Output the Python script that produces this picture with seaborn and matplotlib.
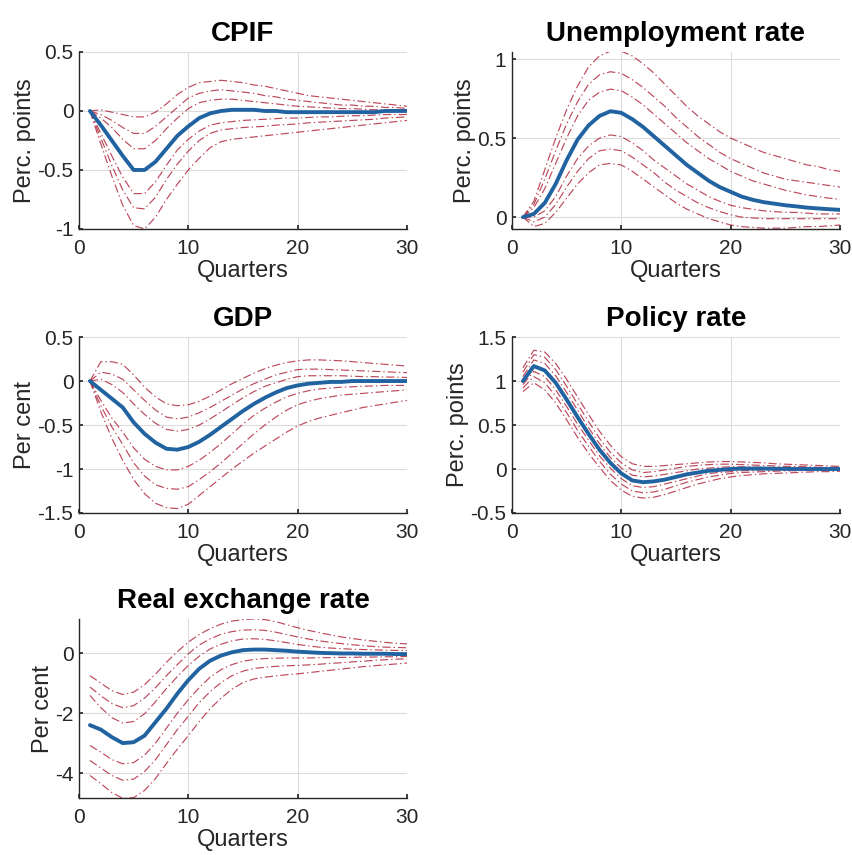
import numpy as np
import pandas as pd
import matplotlib
matplotlib.use("Agg")
import matplotlib.pyplot as plt
import seaborn as sns
from matplotlib.ticker import FuncFormatter

quarters = list(range(1, 31))

# ---------------- CPIF ----------------
cpif_med = [0.00, -0.12, -0.25, -0.38, -0.50, -0.50, -0.43, -0.32, -0.21, -0.13, -0.06, -0.02, 0.00, 0.01, 0.01,
            0.01, 0.00, 0.00, -0.01, -0.01, -0.01, -0.01, -0.01, -0.01, -0.01, -0.01, -0.01, 0.00, 0.00, 0.00]
cpif_u3 = [0.00, 0.01, -0.01, -0.03, -0.05, -0.05, -0.01, 0.06, 0.14, 0.20, 0.24, 0.25, 0.26, 0.25, 0.24,
           0.22, 0.21, 0.19, 0.17, 0.15, 0.13, 0.12, 0.11, 0.10, 0.09, 0.08, 0.07, 0.06, 0.05, 0.04]
cpif_u2 = [0.00, -0.03, -0.08, -0.14, -0.19, -0.19, -0.13, -0.05, 0.03, 0.11, 0.15, 0.17, 0.18, 0.17, 0.16,
           0.15, 0.13, 0.12, 0.10, 0.09, 0.08, 0.07, 0.06, 0.05, 0.05, 0.04, 0.04, 0.03, 0.03, 0.02]
cpif_u1 = [0.00, -0.06, -0.14, -0.24, -0.32, -0.32, -0.25, -0.15, -0.06, 0.02, 0.07, 0.09, 0.10, 0.10, 0.09,
           0.08, 0.07, 0.06, 0.05, 0.04, 0.035, 0.03, 0.025, 0.02, 0.02, 0.015, 0.01, 0.01, 0.01, 0.01]
cpif_l1 = [0.00, -0.19, -0.38, -0.56, -0.70, -0.70, -0.60, -0.46, -0.33, -0.24, -0.17, -0.12, -0.10, -0.09, -0.08,
           -0.075, -0.07, -0.065, -0.06, -0.06, -0.055, -0.05, -0.05, -0.045, -0.04, -0.04, -0.035, -0.03, -0.03, -0.03]
cpif_l2 = [0.00, -0.23, -0.46, -0.67, -0.82, -0.83, -0.73, -0.58, -0.45, -0.34, -0.25, -0.19, -0.16, -0.15, -0.14,
           -0.135, -0.13, -0.12, -0.115, -0.11, -0.10, -0.095, -0.09, -0.085, -0.08, -0.075, -0.07, -0.06, -0.055, -0.05]
cpif_l3 = [0.00, -0.28, -0.55, -0.80, -0.97, -1.00, -0.90, -0.75, -0.62, -0.50, -0.40, -0.31, -0.26, -0.24, -0.23,
           -0.22, -0.21, -0.20, -0.19, -0.18, -0.17, -0.16, -0.15, -0.14, -0.13, -0.12, -0.11, -0.10, -0.09, -0.08]

# ---------------- Unemployment rate ----------------
unemp_med = [0.00, 0.02, 0.09, 0.21, 0.36, 0.49, 0.58, 0.64, 0.67, 0.66, 0.62, 0.57, 0.51, 0.45, 0.39,
             0.33, 0.28, 0.23, 0.19, 0.16, 0.13, 0.11, 0.095, 0.085, 0.075, 0.068, 0.06, 0.055, 0.05, 0.046]
unemp_u3 = [0.00, 0.10, 0.30, 0.50, 0.68, 0.83, 0.95, 1.02, 1.05, 1.05, 1.02, 0.97, 0.91, 0.84, 0.77,
            0.70, 0.64, 0.59, 0.54, 0.50, 0.47, 0.44, 0.41, 0.39, 0.37, 0.35, 0.33, 0.32, 0.30, 0.29]
unemp_u2 = [0.00, 0.08, 0.24, 0.42, 0.59, 0.73, 0.84, 0.90, 0.92, 0.91, 0.87, 0.82, 0.76, 0.70, 0.63,
            0.57, 0.51, 0.46, 0.41, 0.37, 0.34, 0.31, 0.28, 0.26, 0.24, 0.23, 0.22, 0.21, 0.20, 0.19]
unemp_u1 = [0.00, 0.06, 0.18, 0.34, 0.50, 0.64, 0.74, 0.79, 0.81, 0.80, 0.76, 0.71, 0.65, 0.59, 0.53,
            0.47, 0.42, 0.37, 0.33, 0.29, 0.26, 0.23, 0.21, 0.19, 0.17, 0.155, 0.14, 0.13, 0.12, 0.113]
unemp_l1 = [0.00, 0.00, 0.04, 0.13, 0.26, 0.37, 0.45, 0.50, 0.52, 0.51, 0.47, 0.42, 0.36, 0.31, 0.26,
            0.21, 0.17, 0.13, 0.10, 0.075, 0.06, 0.05, 0.04, 0.035, 0.03, 0.03, 0.025, 0.02, 0.02, 0.02]
unemp_l2 = [0.00, -0.03, 0.00, 0.08, 0.19, 0.29, 0.37, 0.42, 0.43, 0.42, 0.38, 0.33, 0.28, 0.22, 0.17,
            0.13, 0.09, 0.06, 0.035, 0.015, 0.00, -0.005, -0.01, -0.01, -0.01, -0.01, -0.01, -0.01, -0.01, -0.01]
unemp_l3 = [0.00, -0.06, -0.04, 0.03, 0.12, 0.21, 0.28, 0.33, 0.34, 0.33, 0.29, 0.24, 0.19, 0.14, 0.09,
            0.05, 0.02, -0.01, -0.03, -0.05, -0.06, -0.065, -0.07, -0.07, -0.07, -0.065, -0.06, -0.06, -0.055, -0.05]

# ---------------- GDP ----------------
gdp_med = [0.00, -0.10, -0.20, -0.30, -0.47, -0.60, -0.70, -0.77, -0.78, -0.75, -0.69, -0.61, -0.52, -0.43, -0.34,
           -0.26, -0.19, -0.13, -0.08, -0.05, -0.03, -0.02, -0.01, -0.01, 0.00, 0.00, 0.00, 0.00, 0.00, 0.00]
gdp_u3 = [0.00, 0.22, 0.22, 0.19, 0.07, -0.07, -0.18, -0.26, -0.28, -0.27, -0.23, -0.17, -0.10, -0.03, 0.03,
          0.09, 0.14, 0.18, 0.21, 0.23, 0.24, 0.24, 0.235, 0.23, 0.22, 0.21, 0.20, 0.19, 0.18, 0.17]
gdp_u2 = [0.00, 0.10, 0.08, 0.02, -0.10, -0.22, -0.33, -0.41, -0.43, -0.41, -0.36, -0.30, -0.23, -0.16, -0.09,
          -0.03, 0.02, 0.07, 0.10, 0.13, 0.135, 0.135, 0.13, 0.125, 0.12, 0.115, 0.11, 0.105, 0.10, 0.095]
gdp_u1 = [0.00, 0.02, -0.04, -0.13, -0.26, -0.38, -0.48, -0.55, -0.57, -0.55, -0.50, -0.43, -0.35, -0.27, -0.19,
          -0.12, -0.06, -0.02, 0.02, 0.05, 0.06, 0.06, 0.06, 0.06, 0.055, 0.05, 0.05, 0.045, 0.045, 0.04]
gdp_l1 = [0.00, -0.22, -0.42, -0.58, -0.76, -0.89, -0.97, -1.01, -1.01, -0.97, -0.90, -0.81, -0.71, -0.60, -0.49,
          -0.39, -0.31, -0.24, -0.18, -0.14, -0.11, -0.09, -0.08, -0.07, -0.065, -0.06, -0.055, -0.05, -0.05, -0.05]
gdp_l2 = [0.00, -0.28, -0.52, -0.72, -0.93, -1.08, -1.18, -1.22, -1.23, -1.20, -1.12, -1.03, -0.93, -0.82, -0.71,
          -0.60, -0.50, -0.41, -0.33, -0.27, -0.23, -0.20, -0.18, -0.16, -0.15, -0.14, -0.13, -0.12, -0.11, -0.10]
gdp_l3 = [0.00, -0.35, -0.65, -0.90, -1.12, -1.28, -1.39, -1.44, -1.45, -1.40, -1.30, -1.20, -1.10, -1.00, -0.91,
          -0.82, -0.74, -0.66, -0.58, -0.51, -0.46, -0.42, -0.39, -0.36, -0.33, -0.30, -0.28, -0.26, -0.24, -0.22]

# ---------------- Policy rate ----------------
pol_med = [1.00, 1.17, 1.12, 0.98, 0.79, 0.59, 0.40, 0.22, 0.07, -0.05, -0.13, -0.15, -0.14, -0.12, -0.09,
           -0.06, -0.04, -0.02, -0.01, 0.00, 0.005, 0.005, 0.005, 0.003, 0.002, 0.00, 0.00, 0.00, 0.00, 0.00]
pol_u3 = [1.15, 1.35, 1.33, 1.20, 1.02, 0.82, 0.62, 0.43, 0.27, 0.14, 0.06, 0.03, 0.03, 0.04, 0.05,
          0.06, 0.07, 0.08, 0.085, 0.085, 0.08, 0.075, 0.07, 0.06, 0.055, 0.05, 0.045, 0.04, 0.035, 0.03]
pol_u2 = [1.10, 1.30, 1.27, 1.13, 0.94, 0.74, 0.54, 0.35, 0.19, 0.07, -0.01, -0.04, -0.03, -0.01, 0.01,
          0.03, 0.04, 0.05, 0.055, 0.055, 0.05, 0.045, 0.04, 0.035, 0.03, 0.03, 0.025, 0.02, 0.02, 0.02]
pol_u1 = [1.05, 1.24, 1.20, 1.06, 0.87, 0.67, 0.47, 0.29, 0.13, 0.01, -0.07, -0.09, -0.08, -0.06, -0.04,
          -0.02, 0.00, 0.01, 0.02, 0.025, 0.025, 0.02, 0.02, 0.015, 0.01, 0.01, 0.01, 0.01, 0.005, 0.005]
pol_l1 = [0.96, 1.11, 1.05, 0.90, 0.71, 0.51, 0.33, 0.15, 0.01, -0.11, -0.19, -0.21, -0.20, -0.17, -0.14,
          -0.11, -0.08, -0.05, -0.04, -0.03, -0.02, -0.015, -0.01, -0.01, -0.01, -0.005, -0.005, -0.005, -0.005, -0.005]
pol_l2 = [0.92, 1.05, 0.98, 0.83, 0.64, 0.44, 0.26, 0.09, -0.06, -0.17, -0.25, -0.27, -0.26, -0.23, -0.19,
          -0.15, -0.12, -0.09, -0.07, -0.05, -0.04, -0.035, -0.03, -0.025, -0.02, -0.02, -0.015, -0.015, -0.01, -0.01]
pol_l3 = [0.88, 0.98, 0.90, 0.75, 0.56, 0.36, 0.18, 0.02, -0.13, -0.24, -0.31, -0.33, -0.32, -0.29, -0.25,
          -0.21, -0.17, -0.14, -0.11, -0.09, -0.075, -0.065, -0.055, -0.05, -0.045, -0.04, -0.035, -0.03, -0.03, -0.025]

# ---------------- Real exchange rate ----------------
rer_med = [-2.40, -2.55, -2.80, -3.00, -2.97, -2.75, -2.30, -1.85, -1.35, -0.90, -0.52, -0.25, -0.08, 0.03, 0.10,
           0.12, 0.12, 0.10, 0.08, 0.05, 0.03, 0.01, 0.00, -0.01, -0.01, -0.02, -0.02, -0.02, -0.03, -0.03]
rer_u3 = [-0.75, -1.00, -1.25, -1.38, -1.30, -1.05, -0.70, -0.30, 0.05, 0.37, 0.62, 0.82, 0.97, 1.07, 1.12,
          1.14, 1.12, 1.05, 0.95, 0.85, 0.76, 0.68, 0.61, 0.54, 0.49, 0.44, 0.40, 0.36, 0.33, 0.31]
rer_u2 = [-1.13, -1.42, -1.68, -1.82, -1.75, -1.50, -1.15, -0.75, -0.38, -0.02, 0.27, 0.48, 0.63, 0.72, 0.77,
          0.78, 0.76, 0.70, 0.62, 0.54, 0.47, 0.41, 0.36, 0.32, 0.28, 0.25, 0.22, 0.20, 0.19, 0.18]
rer_u1 = [-1.41, -1.82, -2.15, -2.33, -2.28, -2.02, -1.62, -1.18, -0.78, -0.41, -0.10, 0.14, 0.30, 0.41, 0.47,
          0.48, 0.46, 0.41, 0.35, 0.29, 0.24, 0.20, 0.17, 0.15, 0.13, 0.12, 0.11, 0.10, 0.09, 0.09]
rer_l1 = [-3.08, -3.30, -3.55, -3.69, -3.65, -3.40, -3.00, -2.50, -2.00, -1.55, -1.15, -0.80, -0.55, -0.38, -0.27,
          -0.21, -0.18, -0.17, -0.16, -0.16, -0.16, -0.15, -0.15, -0.14, -0.14, -0.13, -0.13, -0.12, -0.12, -0.11]
rer_l2 = [-3.58, -3.83, -4.08, -4.24, -4.20, -3.95, -3.55, -3.05, -2.55, -2.10, -1.65, -1.28, -0.98, -0.75, -0.60,
          -0.51, -0.47, -0.44, -0.42, -0.41, -0.39, -0.37, -0.34, -0.32, -0.29, -0.27, -0.24, -0.22, -0.20, -0.19]
rer_l3 = [-4.08, -4.35, -4.65, -4.84, -4.82, -4.58, -4.18, -3.68, -3.20, -2.75, -2.28, -1.85, -1.50, -1.20, -0.98,
          -0.86, -0.80, -0.76, -0.72, -0.69, -0.65, -0.61, -0.57, -0.53, -0.49, -0.45, -0.42, -0.39, -0.36, -0.33]

titles = ["CPIF", "Unemployment rate", "GDP", "Policy rate", "Real exchange rate"]
ylabels = ["Perc. points", "Perc. points", "Per cent", "Perc. points", "Per cent"]
xlabel = "Quarters"
xticks = [0, 10, 20, 30]
yticks_list = [[-1, -0.5, 0, 0.5], [0, 0.5, 1], [-1.5, -1, -0.5, 0, 0.5], [-0.5, 0, 0.5, 1, 1.5], [-4, -2, 0]]

panels = [
    (cpif_med, [cpif_u3, cpif_u2, cpif_u1, cpif_l1, cpif_l2, cpif_l3]),
    (unemp_med, [unemp_u3, unemp_u2, unemp_u1, unemp_l1, unemp_l2, unemp_l3]),
    (gdp_med, [gdp_u3, gdp_u2, gdp_u1, gdp_l1, gdp_l2, gdp_l3]),
    (pol_med, [pol_u3, pol_u2, pol_u1, pol_l1, pol_l2, pol_l3]),
    (rer_med, [rer_u3, rer_u2, rer_u1, rer_l1, rer_l2, rer_l3]),
]

# --- layout / style (not data) ---
ylims = [(-1, 0.5), (-0.075, 1.045), (-1.5, 0.5), (-0.5, 1.5), (-4.83, 1.13)]
positions = [
    [0.0926, 0.7322, 0.3845, 0.2070],
    [0.6002, 0.7322, 0.3845, 0.2070],
    [0.0926, 0.4000, 0.3845, 0.2058],
    [0.6002, 0.4000, 0.3845, 0.2058],
    [0.0926, 0.0667, 0.3845, 0.2090],
]

sns.set_theme(style="whitegrid")
plt.rcParams["font.family"] = ["Liberation Sans", "DejaVu Sans"]
plt.rcParams["axes.unicode_minus"] = False

BLUE = "#2163a0"
RED = "#b02a3e"

fig = plt.figure(figsize=(8.53, 8.55), dpi=100)
fmt = FuncFormatter(lambda v, p: "%g" % v)

for i, (med, bands) in enumerate(panels):
    ax = fig.add_axes(positions[i])
    for b in bands:
        df = pd.DataFrame({"q": quarters, "v": b})
        sns.lineplot(data=df, x="q", y="v", ax=ax, color=RED, linewidth=0.85,
                     linestyle=(0, (7, 2.5, 1.2, 2.5)), alpha=0.85)
    dfm = pd.DataFrame({"q": quarters, "v": med})
    sns.lineplot(data=dfm, x="q", y="v", ax=ax, color=BLUE, linewidth=2.8)
    ax.set_xlim(0, 30)
    ax.set_ylim(*ylims[i])
    ax.set_xticks(xticks)
    ax.set_yticks(yticks_list[i])
    ax.xaxis.set_major_formatter(fmt)
    ax.yaxis.set_major_formatter(fmt)
    ax.set_title(titles[i], fontsize=20, fontweight="bold", pad=8, color="black")
    ax.set_xlabel(xlabel, fontsize=17, color="#262626", labelpad=2)
    ax.set_ylabel(ylabels[i], fontsize=17, color="#262626", labelpad=1)
    ax.tick_params(axis="both", labelsize=15, colors="#262626", length=3, direction="in",
                   left=True, bottom=True)
    ax.tick_params(axis="x", pad=7)
    ax.tick_params(axis="y", pad=4)
    ax.grid(True, color="#dcdcdc", linewidth=0.8)
    for s in ["top", "right"]:
        ax.spines[s].set_visible(False)
    for s in ["left", "bottom"]:
        ax.spines[s].set_color("#262626")
        ax.spines[s].set_linewidth(1.0)
    ax.set_facecolor("white")

fig.savefig("out.png", dpi=100, facecolor="white")
